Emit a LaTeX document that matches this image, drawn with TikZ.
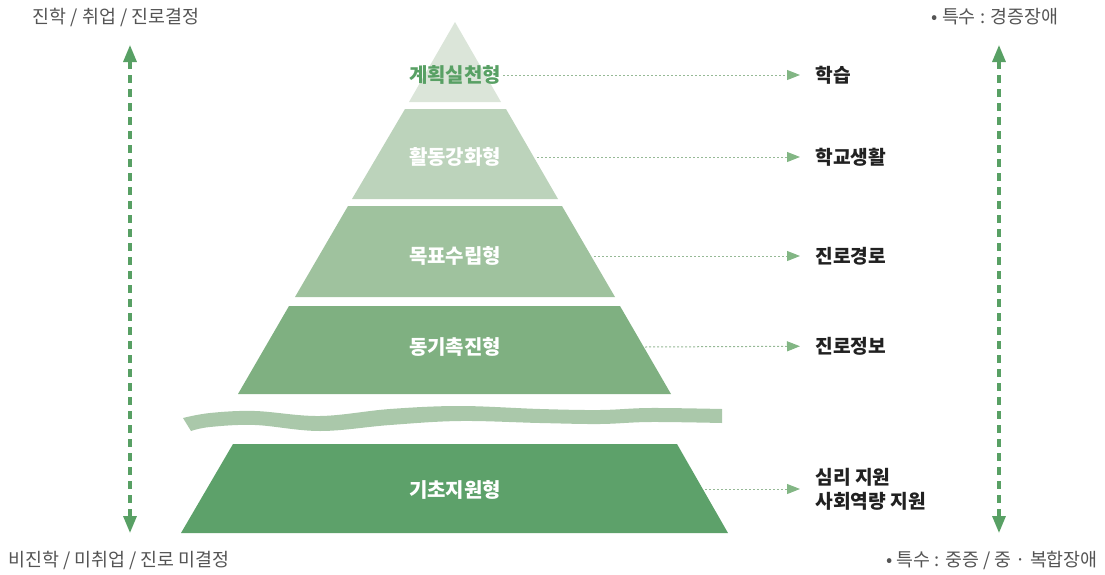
\documentclass[tikz,border=0pt]{standalone}
\usepackage{fontspec}
\setmainfont{Noto Sans CJK KR}
\usetikzlibrary{arrows.meta,positioning}
\definecolor{pText}{gray}{0.33}
\definecolor{pDark}{gray}{0.13}
\definecolor{pGreen}{RGB}{88,160,100}
\definecolor{pTierA}{RGB}{219,229,217}
\definecolor{pTierB}{RGB}{188,211,187}
\definecolor{pTierC}{RGB}{159,194,158}
\definecolor{pTierD}{RGB}{127,176,129}
\definecolor{pTierE}{RGB}{93,161,106}
\definecolor{pWave}{RGB}{170,200,170}
\definecolor{pDot}{RGB}{150,185,150}
\definecolor{pTip}{RGB}{130,182,132}
\tikzset{
    tier/.style={fill=#1, draw=none},
    tlab/.style={inner sep=1pt, text=white, font=\fontsize{10}{12}\selectfont\bfseries},
    rlab/.style={anchor=west, inner sep=2pt, align=left, text=pDark, font=\fontsize{9.6}{12}\selectfont\bfseries},
    clab/.style={inner sep=1pt, text=pText, font=\fontsize{9.2}{11}\selectfont},
    lnk/.style={pDot, line width=0.5pt, dash pattern=on 1pt off 1pt, shorten >=5.5pt, -{Triangle[length=6.5pt, width=5pt, fill=pTip, color=pTip]}},
    vArr/.style={pGreen, line width=1.6pt, dash pattern=on 4pt off 3pt, {Triangle[length=8.5pt, width=6.5pt]}-{Triangle[length=8.5pt, width=6.5pt]}}
}

\begin{document}
\begin{tikzpicture}[x=0.5pt,y=-0.5pt]
\useasboundingbox (0,0) rectangle (1105,574);
\fill[tier=pTierA] (455, 22) -- (501,102) -- (409,102) -- cycle;
\fill[tier=pTierB] (405,109) -- (506,109) -- (558,199) -- (352,199) -- cycle;
\fill[tier=pTierC] (348,206) -- (562,206) -- (615,297) -- (295,297) -- cycle;
\fill[tier=pTierD] (289,306) -- (620,306) -- (671,394) -- (238,394) -- cycle;
\fill[tier=pTierE] (233,444) -- (677,444) -- (728,533) -- (181,533) -- cycle;
\fill[pWave] plot[smooth, tension=0.6] coordinates {(183,418) (210,413) (255,411) (320,416) (390,409) (460,406) (540,409) (600,410) (650,408) (722,409)}
    -- plot[smooth, tension=0.6] coordinates {(722,423) (650,422) (600,424) (540,423) (460,421) (390,425) (320,431) (255,425) (210,427) (191,431)} -- cycle;

\node[tlab, text=pGreen] (l1) at (455, 75) {계획실천형};
\node[tlab]              (l2) at (455,157) {활동강화형};
\node[tlab]              (l3) at (455,256) {목표수립형};
\node[tlab]              (l4) at (455,347) {동기촉진형};
\node[tlab]              (l5) at (455,490) {기초지원형};

\coordinate (e2) at (537,157);
\coordinate (e3) at (594,256);
\coordinate (e4) at (645,347);
\coordinate (e5) at (705,489);

\node[rlab] (r1) at (811, 75) {학습};
\node[rlab] (r2) at (811,157) {학교생활};
\node[rlab] (r3) at (811,256) {진로경로};
\node[rlab] (r4) at (811,346) {진로정보};
\node[rlab] (r5) at (811,489) {심리 지원\\사회역량 지원};

\draw[lnk] (l1.east) -- (r1);
\draw[lnk] (e2) -- (r2);
\draw[lnk] (e3) -- (r3);
\draw[lnk] (e4) -- (r4);
\draw[lnk] (e5) -- (r5.west |- e5);

\node[clab] (tl) at (116, 17) {진학 / 취업 / 진로결정};
\node[clab] (bl) at (119,560) {비진학 / 미취업 / 진로 미결정};
\node[clab] (tr) at (995, 17) {• 특수 : 경증장애};
\node[clab] (br) at (992,560) {• 특수 : 중증 / 중 · 복합장애};

\coordinate (vL1) at (130, 45);
\coordinate (vL2) at (130,533);
\coordinate (vR1) at (999, 45);
\coordinate (vR2) at (999,533);
\draw[vArr] (vL1) -- (vL2);
\draw[vArr] (vR1) -- (vR2);
\end{tikzpicture}
\end{document}
